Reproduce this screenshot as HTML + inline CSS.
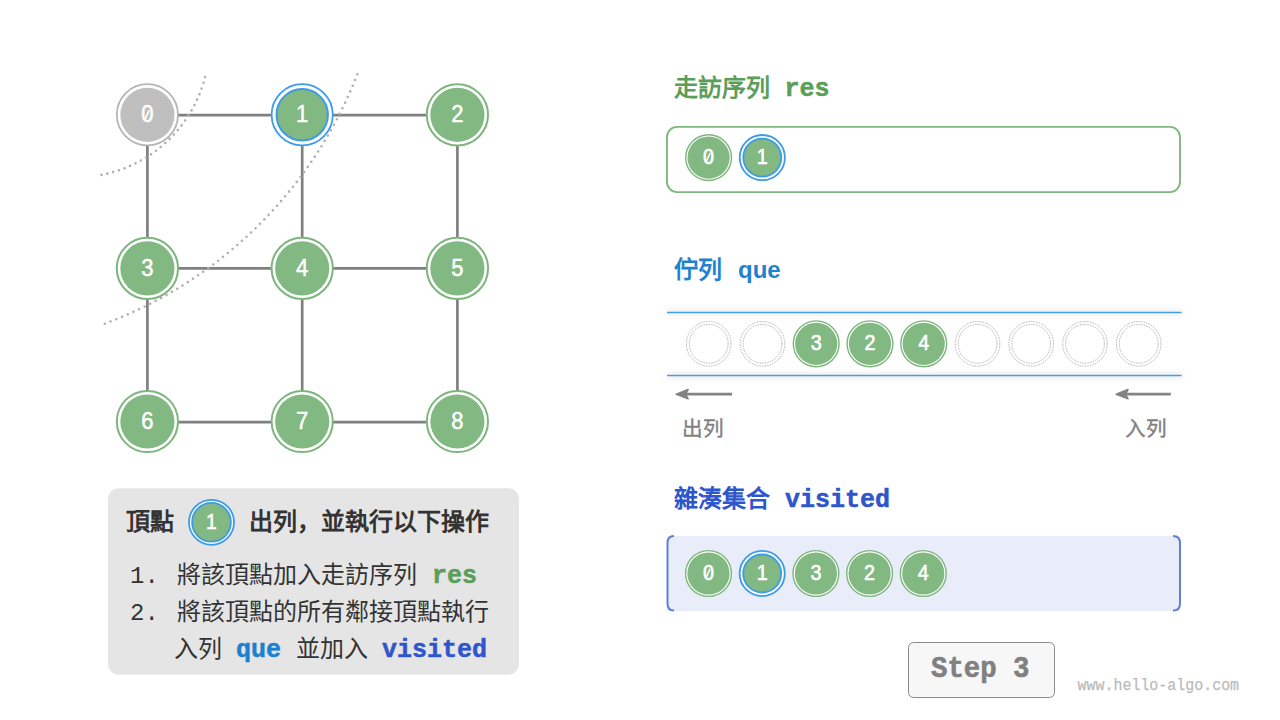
<!DOCTYPE html>
<html lang="zh-CN"><head><meta charset="utf-8"><style>
html,body{margin:0;padding:0;background:#fff;width:1280px;height:720px;overflow:hidden}
svg{position:absolute;left:0;top:0}
</style></head><body>
<svg width="1280" height="720" viewBox="0 0 1280 720">
<line x1="147.4" y1="115.2" x2="457.4" y2="115.2" stroke="#808080" stroke-width="2.7"/>
<line x1="147.4" y1="268.4" x2="457.4" y2="268.4" stroke="#808080" stroke-width="2.7"/>
<line x1="147.4" y1="422.2" x2="457.4" y2="422.2" stroke="#808080" stroke-width="2.7"/>
<line x1="147.4" y1="114.8" x2="147.4" y2="421.5" stroke="#808080" stroke-width="2.7"/>
<line x1="302.2" y1="114.8" x2="302.2" y2="421.5" stroke="#808080" stroke-width="2.7"/>
<line x1="457.4" y1="114.8" x2="457.4" y2="421.5" stroke="#808080" stroke-width="2.7"/>
<circle cx="147.4" cy="114.8" r="30.6" fill="#fff" stroke="#b5b5b5" stroke-width="1.8"/><circle cx="147.4" cy="114.8" r="27.1" fill="#bfbfbf"/><text transform="translate(147.4 122.10) scale(0.9 1)" x="0" y="0" text-anchor="middle" font-family='"Liberation Sans",sans-serif' font-size="24.5" fill="#fff" stroke="#fff" stroke-width="0.5">0</text><line x1="145.10" y1="119.42" x2="149.10" y2="110.22" stroke="#fff" stroke-width="1.70"/>
<circle cx="302.2" cy="114.8" r="30.6" fill="#fff" stroke="#3d9be9" stroke-width="1.8"/><circle cx="302.2" cy="114.8" r="25.7" fill="#82b882" stroke="#3d9be9" stroke-width="2"/><text transform="translate(302.2 122.10) scale(0.9 1)" x="0" y="0" text-anchor="middle" font-family='"Liberation Sans",sans-serif' font-size="24.5" fill="#fff" stroke="#fff" stroke-width="0.5">1</text>
<circle cx="457.4" cy="114.8" r="30.6" fill="#fff" stroke="#7db67d" stroke-width="2"/><circle cx="457.4" cy="114.8" r="27.1" fill="#82b882"/><text transform="translate(457.4 122.10) scale(0.9 1)" x="0" y="0" text-anchor="middle" font-family='"Liberation Sans",sans-serif' font-size="24.5" fill="#fff" stroke="#fff" stroke-width="0.5">2</text>
<circle cx="147.4" cy="268.4" r="30.6" fill="#fff" stroke="#7db67d" stroke-width="2"/><circle cx="147.4" cy="268.4" r="27.1" fill="#82b882"/><text transform="translate(147.4 275.70) scale(0.9 1)" x="0" y="0" text-anchor="middle" font-family='"Liberation Sans",sans-serif' font-size="24.5" fill="#fff" stroke="#fff" stroke-width="0.5">3</text>
<circle cx="302.2" cy="268.4" r="30.6" fill="#fff" stroke="#7db67d" stroke-width="2"/><circle cx="302.2" cy="268.4" r="27.1" fill="#82b882"/><text transform="translate(302.2 275.70) scale(0.9 1)" x="0" y="0" text-anchor="middle" font-family='"Liberation Sans",sans-serif' font-size="24.5" fill="#fff" stroke="#fff" stroke-width="0.5">4</text>
<circle cx="457.4" cy="268.4" r="30.6" fill="#fff" stroke="#7db67d" stroke-width="2"/><circle cx="457.4" cy="268.4" r="27.1" fill="#82b882"/><text transform="translate(457.4 275.70) scale(0.9 1)" x="0" y="0" text-anchor="middle" font-family='"Liberation Sans",sans-serif' font-size="24.5" fill="#fff" stroke="#fff" stroke-width="0.5">5</text>
<circle cx="147.4" cy="421.5" r="30.6" fill="#fff" stroke="#7db67d" stroke-width="2"/><circle cx="147.4" cy="421.5" r="27.1" fill="#82b882"/><text transform="translate(147.4 428.80) scale(0.9 1)" x="0" y="0" text-anchor="middle" font-family='"Liberation Sans",sans-serif' font-size="24.5" fill="#fff" stroke="#fff" stroke-width="0.5">6</text>
<circle cx="302.2" cy="421.5" r="30.6" fill="#fff" stroke="#7db67d" stroke-width="2"/><circle cx="302.2" cy="421.5" r="27.1" fill="#82b882"/><text transform="translate(302.2 428.80) scale(0.9 1)" x="0" y="0" text-anchor="middle" font-family='"Liberation Sans",sans-serif' font-size="24.5" fill="#fff" stroke="#fff" stroke-width="0.5">7</text>
<circle cx="457.4" cy="421.5" r="30.6" fill="#fff" stroke="#7db67d" stroke-width="2"/><circle cx="457.4" cy="421.5" r="27.1" fill="#82b882"/><text transform="translate(457.4 428.80) scale(0.9 1)" x="0" y="0" text-anchor="middle" font-family='"Liberation Sans",sans-serif' font-size="24.5" fill="#fff" stroke="#fff" stroke-width="0.5">8</text>
<path d="M101.5,174.9 A133.2,133.2 0 0 0 206.4,71.4" fill="none" stroke="#b0b0b0" stroke-width="2.6" stroke-linecap="round" stroke-dasharray="0 6.007"/>
<path d="M104.8,323.7 A433.3,433.3 0 0 0 359.5,68.5" fill="none" stroke="#b0b0b0" stroke-width="2.6" stroke-linecap="round" stroke-dasharray="0 6.198"/>
<rect x="667" y="126.9" width="513" height="65.2" rx="10" fill="#fff" stroke="#7fb77e" stroke-width="1.9"/>
<circle cx="708.6" cy="157.6" r="22.9" fill="#fff" stroke="#7db67d" stroke-width="1.4"/><circle cx="708.6" cy="157.6" r="21.1" fill="#82b882"/><text transform="translate(708.6 163.70) scale(0.9 1)" x="0" y="0" text-anchor="middle" font-family='"Liberation Sans",sans-serif' font-size="22" fill="#fff" stroke="#fff" stroke-width="0.6">0</text><line x1="706.53" y1="161.27" x2="710.13" y2="153.01" stroke="#fff" stroke-width="1.53"/>
<circle cx="762.3" cy="157.6" r="22.6" fill="#fff" stroke="#3d9be9" stroke-width="1.8"/><circle cx="762.3" cy="157.6" r="19" fill="#82b882" stroke="#3d9be9" stroke-width="1.8"/><text transform="translate(762.3 163.70) scale(0.9 1)" x="0" y="0" text-anchor="middle" font-family='"Liberation Sans",sans-serif' font-size="22" fill="#fff" stroke="#fff" stroke-width="0.6">1</text>
<defs><filter id="sh" x="-20%" y="-500%" width="140%" height="1100%"><feGaussianBlur stdDeviation="3"/></filter></defs>
<g filter="url(#sh)" opacity="0.35"><line x1="667" y1="312.5" x2="1181.5" y2="312.5" stroke="#999" stroke-width="3"/><line x1="667" y1="375.5" x2="1181.5" y2="375.5" stroke="#999" stroke-width="3"/></g>
<line x1="667" y1="312.5" x2="1181.5" y2="312.5" stroke="#43a0e8" stroke-width="1.4"/>
<line x1="667" y1="375.5" x2="1181.5" y2="375.5" stroke="#43a0e8" stroke-width="1.4"/>
<circle cx="708.7" cy="343.8" r="22.3" fill="#fff" stroke="#999" stroke-width="0.7" stroke-dasharray="1.6 1"/>
<circle cx="708.7" cy="343.8" r="19.4" fill="none" stroke="#999" stroke-width="0.7" stroke-dasharray="1.6 1"/>
<circle cx="762.5" cy="343.8" r="22.3" fill="#fff" stroke="#999" stroke-width="0.7" stroke-dasharray="1.6 1"/>
<circle cx="762.5" cy="343.8" r="19.4" fill="none" stroke="#999" stroke-width="0.7" stroke-dasharray="1.6 1"/>
<circle cx="816.2" cy="343.8" r="22.9" fill="#fff" stroke="#7db67d" stroke-width="1.4"/><circle cx="816.2" cy="343.8" r="21.1" fill="#82b882"/><text transform="translate(816.2 349.90) scale(0.9 1)" x="0" y="0" text-anchor="middle" font-family='"Liberation Sans",sans-serif' font-size="22" fill="#fff" stroke="#fff" stroke-width="0.6">3</text>
<circle cx="870.0" cy="343.8" r="22.9" fill="#fff" stroke="#7db67d" stroke-width="1.4"/><circle cx="870.0" cy="343.8" r="21.1" fill="#82b882"/><text transform="translate(870.0 349.90) scale(0.9 1)" x="0" y="0" text-anchor="middle" font-family='"Liberation Sans",sans-serif' font-size="22" fill="#fff" stroke="#fff" stroke-width="0.6">2</text>
<circle cx="923.7" cy="343.8" r="22.9" fill="#fff" stroke="#7db67d" stroke-width="1.4"/><circle cx="923.7" cy="343.8" r="21.1" fill="#82b882"/><text transform="translate(923.7 349.90) scale(0.9 1)" x="0" y="0" text-anchor="middle" font-family='"Liberation Sans",sans-serif' font-size="22" fill="#fff" stroke="#fff" stroke-width="0.6">4</text>
<circle cx="977.5" cy="343.8" r="22.3" fill="#fff" stroke="#999" stroke-width="0.7" stroke-dasharray="1.6 1"/>
<circle cx="977.5" cy="343.8" r="19.4" fill="none" stroke="#999" stroke-width="0.7" stroke-dasharray="1.6 1"/>
<circle cx="1031.2" cy="343.8" r="22.3" fill="#fff" stroke="#999" stroke-width="0.7" stroke-dasharray="1.6 1"/>
<circle cx="1031.2" cy="343.8" r="19.4" fill="none" stroke="#999" stroke-width="0.7" stroke-dasharray="1.6 1"/>
<circle cx="1085.0" cy="343.8" r="22.3" fill="#fff" stroke="#999" stroke-width="0.7" stroke-dasharray="1.6 1"/>
<circle cx="1085.0" cy="343.8" r="19.4" fill="none" stroke="#999" stroke-width="0.7" stroke-dasharray="1.6 1"/>
<circle cx="1138.7" cy="343.8" r="22.3" fill="#fff" stroke="#999" stroke-width="0.7" stroke-dasharray="1.6 1"/>
<circle cx="1138.7" cy="343.8" r="19.4" fill="none" stroke="#999" stroke-width="0.7" stroke-dasharray="1.6 1"/>
<line x1="683.5" y1="394.2" x2="732" y2="394.2" stroke="#838383" stroke-width="2.8"/><path d="M676.3,394.2 L688.1,389.59999999999997 L685.5,394.2 L688.1,398.8 Z" fill="#838383" stroke="#838383" stroke-width="1.6" stroke-linejoin="round"/>
<line x1="1123.4" y1="394.2" x2="1170.8" y2="394.2" stroke="#838383" stroke-width="2.8"/><path d="M1116.2,394.2 L1128.0,389.59999999999997 L1125.4,394.2 L1128.0,398.8 Z" fill="#838383" stroke="#838383" stroke-width="1.6" stroke-linejoin="round"/>
<rect x="667" y="536" width="513" height="75" fill="#e9edfa"/>
<path d="M674,536 Q667.5,536 667.5,543 V603.5 Q667.5,610.5 674,610.5" fill="none" stroke="#5f7fdb" stroke-width="2"/>
<path d="M1173,536 Q1180,536 1180,543 V603.5 Q1180,610.5 1173,610.5" fill="none" stroke="#5f7fdb" stroke-width="2"/>
<circle cx="708.5" cy="573.5" r="22.9" fill="#fff" stroke="#7db67d" stroke-width="1.4"/><circle cx="708.5" cy="573.5" r="21.1" fill="#82b882"/><text transform="translate(708.5 579.60) scale(0.9 1)" x="0" y="0" text-anchor="middle" font-family='"Liberation Sans",sans-serif' font-size="22" fill="#fff" stroke="#fff" stroke-width="0.6">0</text><line x1="706.43" y1="577.17" x2="710.03" y2="568.91" stroke="#fff" stroke-width="1.53"/>
<circle cx="762.2" cy="573.5" r="22.6" fill="#fff" stroke="#3d9be9" stroke-width="1.8"/><circle cx="762.2" cy="573.5" r="19" fill="#82b882" stroke="#3d9be9" stroke-width="1.8"/><text transform="translate(762.2 579.60) scale(0.9 1)" x="0" y="0" text-anchor="middle" font-family='"Liberation Sans",sans-serif' font-size="22" fill="#fff" stroke="#fff" stroke-width="0.6">1</text>
<circle cx="815.9" cy="573.5" r="22.9" fill="#fff" stroke="#7db67d" stroke-width="1.4"/><circle cx="815.9" cy="573.5" r="21.1" fill="#82b882"/><text transform="translate(815.9 579.60) scale(0.9 1)" x="0" y="0" text-anchor="middle" font-family='"Liberation Sans",sans-serif' font-size="22" fill="#fff" stroke="#fff" stroke-width="0.6">3</text>
<circle cx="869.6" cy="573.5" r="22.9" fill="#fff" stroke="#7db67d" stroke-width="1.4"/><circle cx="869.6" cy="573.5" r="21.1" fill="#82b882"/><text transform="translate(869.6 579.60) scale(0.9 1)" x="0" y="0" text-anchor="middle" font-family='"Liberation Sans",sans-serif' font-size="22" fill="#fff" stroke="#fff" stroke-width="0.6">2</text>
<circle cx="923.3" cy="573.5" r="22.9" fill="#fff" stroke="#7db67d" stroke-width="1.4"/><circle cx="923.3" cy="573.5" r="21.1" fill="#82b882"/><text transform="translate(923.3 579.60) scale(0.9 1)" x="0" y="0" text-anchor="middle" font-family='"Liberation Sans",sans-serif' font-size="22" fill="#fff" stroke="#fff" stroke-width="0.6">4</text>
<rect x="108" y="488.3" width="411" height="186.5" rx="11" fill="#e5e5e5"/>
<circle cx="211.5" cy="522.3" r="22.5" fill="#fff" stroke="#3d9be9" stroke-width="1.8"/><circle cx="211.5" cy="522.3" r="19.4" fill="#82b882" stroke="#3d9be9" stroke-width="1.8"/><text transform="translate(211.5 529.30) scale(0.9 1)" x="0" y="0" text-anchor="middle" font-family='"Liberation Sans",sans-serif' font-size="21.5" fill="#fff" stroke="#fff" stroke-width="0.6">1</text>
<rect x="908.5" y="642.5" width="146" height="55" rx="5" fill="#f7f7f7" stroke="#8a8a8a" stroke-width="1"/>
<text x="674" y="95.5" font-family='"Liberation Sans",sans-serif' font-size="24" font-weight="bold" fill="#5a9e5a">走訪序列</text>
<text x="784.5" y="96" font-family='"Liberation Mono",monospace' font-size="25" font-weight="bold" fill="#5a9e5a" stroke="#5a9e5a" stroke-width="0.5">res</text>
<text x="674" y="277.6" font-family='"Liberation Sans",sans-serif' font-size="24" font-weight="bold" fill="#1f82d0">佇列</text>
<text x="738" y="277.6" font-family='"Liberation Sans",sans-serif' font-size="24" font-weight="bold" fill="#1f82d0">que</text>
<text x="674" y="507" font-family='"Liberation Sans",sans-serif' font-size="24" font-weight="bold" fill="#2f55cc">雜湊集合</text>
<text x="785" y="507" font-family='"Liberation Mono",monospace' font-size="25" font-weight="bold" fill="#2f55cc" stroke="#2f55cc" stroke-width="0.5">visited</text>
<text x="682.3" y="436" font-family='"Liberation Sans",sans-serif' font-size="20.6" fill="#808080" stroke="#808080" stroke-width="0.35">出列</text>
<text x="1125.3" y="436" font-family='"Liberation Sans",sans-serif' font-size="20.6" fill="#808080" stroke="#808080" stroke-width="0.35">入列</text>
<text x="126" y="530" font-family='"Liberation Sans",sans-serif' font-size="24" font-weight="bold" fill="#333">頂點</text>
<text x="249" y="530" font-family='"Liberation Sans",sans-serif' font-size="24" font-weight="bold" fill="#333">出列，並執行以下操作</text>
<text x="130" y="582.8" font-family='"Liberation Mono",monospace' font-size="24" fill="#333">1.</text>
<text x="177" y="582.8" font-family='"Liberation Sans",sans-serif' font-size="24" fill="#333">將該頂點加入走訪序列</text>
<text x="432" y="582.8" font-family='"Liberation Mono",monospace' font-size="25" font-weight="bold" fill="#5a9e5a" stroke="#5a9e5a" stroke-width="0.5">res</text>
<text x="130" y="620.4" font-family='"Liberation Mono",monospace' font-size="24" fill="#333">2.</text>
<text x="177" y="620.4" font-family='"Liberation Sans",sans-serif' font-size="24" fill="#333">將該頂點的所有鄰接頂點執行</text>
<text x="174" y="657.4" font-family='"Liberation Sans",sans-serif' font-size="24" fill="#333">入列</text>
<text x="236" y="657.4" font-family='"Liberation Mono",monospace' font-size="25" font-weight="bold" fill="#1a80cf" stroke="#1a80cf" stroke-width="0.5">que</text>
<text x="296" y="657.4" font-family='"Liberation Sans",sans-serif' font-size="24" fill="#333">並加入</text>
<text x="382" y="657.4" font-family='"Liberation Mono",monospace' font-size="25" font-weight="bold" fill="#2f55cc" stroke="#2f55cc" stroke-width="0.5">visited</text>
<text x="931" y="677" font-family='"Liberation Mono",monospace' font-size="30" font-weight="bold" fill="#808080" stroke="#808080" stroke-width="0.6" textLength="98.5" lengthAdjust="spacingAndGlyphs">Step 3</text>
<text x="1077.6" y="690" font-family='"Liberation Mono",monospace' font-size="16" fill="#bbbbbb" textLength="161.5" lengthAdjust="spacingAndGlyphs" stroke="#bbbbbb" stroke-width="0.25">www.hello-algo.com</text>
</svg>
</body></html>
